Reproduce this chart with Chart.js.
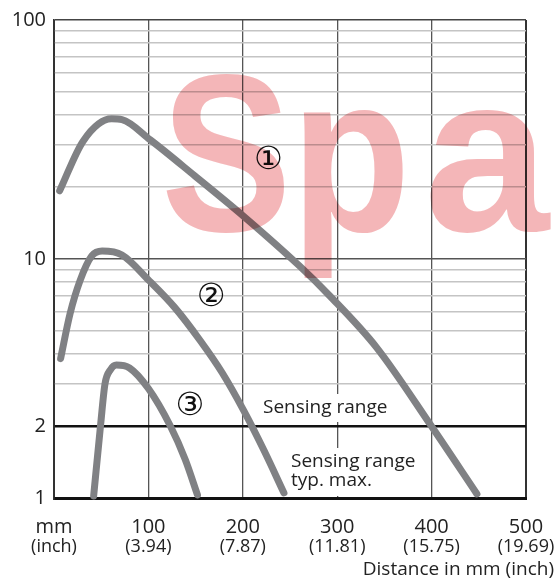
<!DOCTYPE html>
<html>
<head>
<meta charset="utf-8">
<script src="https://cdn.jsdelivr.net/npm/chart.js@4"></script>
<style>
  html, body { margin: 0; padding: 0; background: #fff; }
  #box { width: 558px; height: 582px; }
</style>
</head>
<body>
<div id="box"><canvas id="grafico" width="558" height="582"></canvas></div>
<script>
// distance in mm / sensitivity (log)
var curva1X = [6, 31, 61, 72, 102, 149, 200, 261, 292, 342, 399, 448];
var curva1Y = [19.3, 31.2, 38.6, 38.3, 31.5, 22.3, 15.2, 9.28, 7.02, 4.25, 2.02, 1.04];
var curva2X = [7, 17, 27.5, 40, 51, 72, 101, 128, 155, 178, 201, 222.5, 243.6];
var curva2Y = [3.83, 5.9, 8.1, 10.3, 10.8, 10.4, 8.1, 6.26, 4.55, 3.35, 2.32, 1.58, 1.05];
var curva3X = [42, 49.5, 54, 60, 66, 80, 100, 123, 139, 152];
var curva3Y = [1.02, 2.05, 3.0, 3.45, 3.6, 3.5, 2.87, 2.01, 1.45, 1.03];

var xTicks = [0, 100, 200, 300, 400, 500];
var xMm = ['mm', '100', '200', '300', '400', '500'];
var xInch = ['(inch)', '(3.94)', '(7.87)', '(11.81)', '(15.75)', '(19.69)'];
var yTicks = [1, 2, 3, 4, 5, 6, 7, 8, 9, 10, 20, 30, 40, 50, 60, 70, 80, 90, 100];
var yLabels = [1, 2, 10, 100];

// curve numbers: [text, x mm, y]
var marcas = [['\u2460', 227, 25.7], ['\u2461', 166.5, 6.9], ['\u2462', 144, 2.41]];

var FONTE = '"Open Sans", "DejaVu Sans", sans-serif';
var CINZA = '#808184';

function pontos(xs, ys) {
    var p = [];
    for (var i = 0; i < xs.length; i++)
        p.push({ x: xs[i], y: ys[i] });
    return p;
}

function serie(xs, ys) {
    return {
        data: pontos(xs, ys),
        borderColor: CINZA,
        borderWidth: 7,
        borderCapStyle: 'round',
        borderJoinStyle: 'round',
        pointRadius: 0,
        fill: false,
        clip: false,
        cubicInterpolationMode: 'monotone'
    };
}

function caixaTexto(ctx, linhas, x, y, passo, cobrir) {
    ctx.save();
    ctx.font = '19px ' + FONTE;
    ctx.textAlign = 'left';
    ctx.textBaseline = 'middle';
    if (cobrir) {
        var w = 0;
        linhas.forEach(function (l) { w = Math.max(w, ctx.measureText(l).width); });
        ctx.fillStyle = '#fff';
        ctx.fillRect(cobrir[0], cobrir[1], w + (x - cobrir[0]) + 4, cobrir[2]);
    }
    ctx.fillStyle = '#222';
    linhas.forEach(function (l, i) { ctx.fillText(l, x, y + i * passo); });
    ctx.restore();
}

var textos = {
    id: 'textos',
    beforeDraw: function (chart) {
        var ctx = chart.ctx;
        ctx.save();
        ctx.fillStyle = '#fff';
        ctx.fillRect(0, 0, chart.width, chart.height);
        ctx.restore();
    },
    beforeDatasetsDraw: function (chart) {
        var ctx = chart.ctx;
        var xs = chart.scales.x, ys = chart.scales.y;
        caixaTexto(ctx, ['Sensing range'], 263, 408, 0, [258, 394, 28]);
        caixaTexto(ctx, ['Sensing range', 'typ. max.'], 291, 462, 19, [286, 448, 48]);

        ctx.save();
        ctx.font = '32px "DejaVu Sans", sans-serif';
        ctx.textAlign = 'center';
        ctx.textBaseline = 'middle';
        ctx.fillStyle = '#111';
        marcas.forEach(function (m) {
            ctx.fillText(m[0], xs.getPixelForValue(m[1]), ys.getPixelForValue(m[2]));
        });
        ctx.restore();
    },
    afterDraw: function (chart) {
        var ctx = chart.ctx;
        var xs = chart.scales.x;
        ctx.save();
        ctx.fillStyle = '#222';
        ctx.textAlign = 'center';
        ctx.textBaseline = 'middle';
        for (var i = 0; i < xTicks.length; i++) {
            var px = xs.getPixelForValue(xTicks[i]);
            ctx.font = '20px ' + FONTE;
            ctx.fillText(xMm[i], px, 527);
            ctx.font = '18px ' + FONTE;
            ctx.fillText(xInch[i], px, 547);
        }
        ctx.font = '19px ' + FONTE;
        ctx.textAlign = 'right';
        ctx.fillText('Distance in mm (inch)', 554, 570);
        ctx.restore();

        // watermark
        ctx.save();
        ctx.globalCompositeOperation = 'multiply';
        ctx.fillStyle = '#f4b6b8';
        ctx.font = 'bold 225px "Liberation Sans", sans-serif';
        ctx.textBaseline = 'alphabetic';
        ctx.textAlign = 'left';
        ctx.save();
        ctx.translate(161, 231);
        ctx.scale(0.87, 1);
        ctx.fillText('S', 0, 0);
        ctx.restore();
        ctx.save();
        ctx.translate(291, 231);
        ctx.scale(0.87, 1);
        ctx.fillText('p', 0, 0);
        ctx.restore();
        ctx.fillText('a', 424, 231);
        ctx.restore();
    }
};

var ctx = document.getElementById('grafico').getContext('2d');
var grafico = new Chart(ctx, {
    type: 'line',
    data: {
        datasets: [serie(curva1X, curva1Y), serie(curva2X, curva2Y), serie(curva3X, curva3Y)]
    },
    options: {
        responsive: false,
        animation: false,
        layout: { padding: { left: 8, top: 19, right: 32, bottom: 84 } },
        plugins: { legend: { display: false }, tooltip: { enabled: false } },
        scales: {
            x: {
                type: 'linear',
                min: 0,
                max: 500,
                afterBuildTicks: function (s) {
                    s.ticks = xTicks.map(function (v) { return { value: v }; });
                },
                ticks: { display: false },
                grid: {
                    drawTicks: false,
                    color: function (c) {
                        var v = c.tick.value;
                        return (v == 0 || v == 500) ? '#333' : '#555';
                    },
                    lineWidth: function (c) {
                        var v = c.tick.value;
                        return (v == 0 || v == 500) ? 2 : 1.3;
                    }
                },
                border: { color: '#111', width: 3 }
            },
            y: {
                type: 'logarithmic',
                min: 1,
                max: 100,
                afterBuildTicks: function (s) {
                    s.ticks = yTicks.map(function (v) { return { value: v }; });
                },
                afterFit: function (s) { s.width = 46; },
                ticks: {
                    autoSkip: false,
                    padding: 8,
                    color: '#222',
                    font: { family: FONTE, size: 20 },
                    callback: function (v) {
                        return yLabels.indexOf(v) >= 0 ? String(v) : '';
                    }
                },
                grid: {
                    drawTicks: false,
                    color: function (c) {
                        var v = c.tick.value;
                        if (v == 1 || v == 2) return '#111';
                        if (v == 10) return '#555';
                        if (v == 100) return '#444';
                        return '#c4c4c4';
                    },
                    lineWidth: function (c) {
                        var v = c.tick.value;
                        if (v == 1) return 3;
                        if (v == 2) return 2.6;
                        if (v == 10 || v == 100) return 1.6;
                        return 1.4;
                    }
                },
                border: { color: '#333', width: 1.6 }
            }
        }
    },
    plugins: [textos]
});
</script>
</body>
</html>
